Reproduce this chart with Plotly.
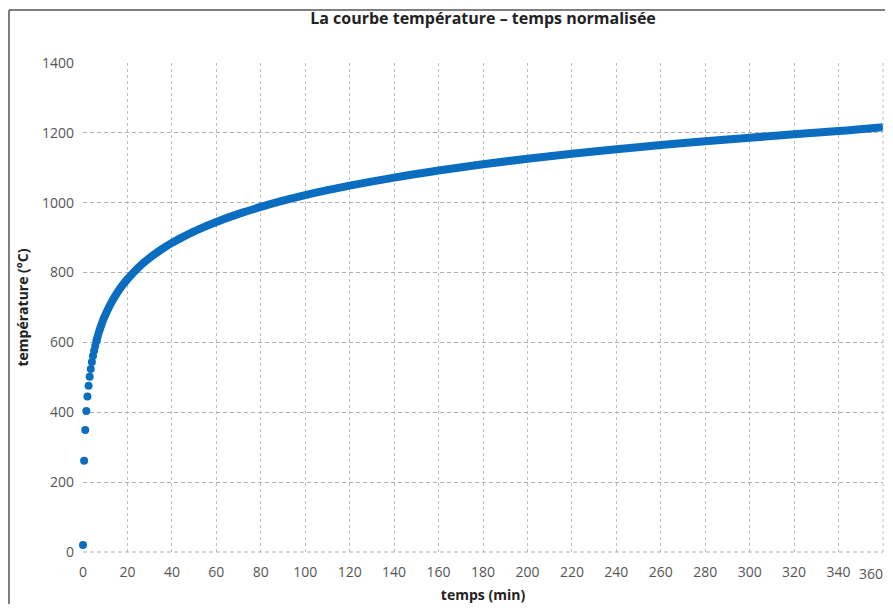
import plotly.graph_objects as go

# early readings, one dot every half minute
t_early = [0, 0.5, 1, 1.5, 2, 2.5, 3, 3.5, 4, 4.5, 5, 5.5, 6]
temp_early = [20, 261, 349, 404, 445, 476, 502, 524, 544, 561, 576, 590, 603]

# continuous part of the curve
t_curve = [6, 7, 8, 9, 10, 12, 14, 16, 18, 20, 25, 30, 35, 40, 45, 50, 55, 60,
           70, 80, 90, 100, 110, 120, 140, 160, 180, 200, 220, 240, 260, 280,
           300, 320, 340, 360]
temp_curve = [603, 626, 645, 663, 678, 705, 728, 748, 766, 781, 815, 842, 865,
              885, 902, 918, 932, 945, 968, 988, 1006, 1022, 1036, 1049, 1072,
              1092, 1110, 1126, 1140, 1153, 1165, 1176, 1186, 1196, 1205, 1216]

x_ticks = list(range(0, 361, 20))
y_ticks = list(range(0, 1401, 200))

blue = "#0b6dbf"
W, H = 877, 596

fig = go.Figure()
fig.add_trace(go.Scatter(x=t_curve, y=temp_curve, mode="lines",
                         line=dict(color=blue, width=8, shape="spline"),
                         cliponaxis=False, hoverinfo="skip"))
fig.add_trace(go.Scatter(x=t_early, y=temp_early, mode="markers",
                         marker=dict(color=blue, size=8),
                         cliponaxis=False))

fig.update_layout(
    width=W, height=H,
    margin=dict(l=75, r=2, t=55, b=52),
    paper_bgcolor="white", plot_bgcolor="white",
    showlegend=False,
    font=dict(family="Open Sans, Noto Sans, sans-serif", color="#444"),
    title=dict(text="<b>La courbe température – temps normalisée</b>",
               x=0.5, xanchor="center", xref="paper",
               y=1 - 10 / H, yanchor="middle",
               font=dict(size=16, color="#222")),
    xaxis=dict(range=[0, 360], tickvals=x_ticks, ticks="",
               ticklabelstandoff=10,
               showgrid=True, gridcolor="#bdbdbd", griddash="dot", gridwidth=1,
               zeroline=False, showline=False,
               tickfont=dict(size=14, color="#555"),
               title=dict(text="<b>temps (min)</b>", standoff=12,
                          font=dict(size=14, color="#222"))),
    yaxis=dict(range=[0, 1400], tickvals=y_ticks, ticks="",
               ticklabelstandoff=8,
               showgrid=True, gridcolor="#b0b0b0", griddash="4px,3px", gridwidth=1,
               zeroline=False, showline=False,
               tickfont=dict(size=14, color="#555"),
               title=dict(text="<b>température (°C)</b>", standoff=10,
                          font=dict(size=14, color="#222"))),
)

# last x tick label, kept inside the page
fig.add_annotation(text=str(x_ticks[-1]), xref="paper", yref="paper",
                   x=1 + 2 / 800, xanchor="right", y=0, yanchor="top",
                   yshift=-10, showarrow=False,
                   font=dict(size=14, color="#555"))

fig.add_shape(type="line", xref="paper", yref="paper", x0=0, x1=1, y0=0, y1=0,
              line=dict(color="#b0b0b0", width=1, dash="4px,3px"))
fig.add_shape(type="line", xref="paper", yref="paper", x0=1, x1=1, y0=0, y1=1,
              line=dict(color="#bdbdbd", width=1, dash="dot"))
# outer frame of the picture (top and left edges)
fig.add_shape(type="line", xref="paper", yref="paper",
              x0=-74 / 800, x1=1.2, y0=1 + 53 / 489, y1=1 + 53 / 489,
              line=dict(color="#555", width=1.5))
fig.add_shape(type="line", xref="paper", yref="paper",
              x0=-74 / 800, x1=-74 / 800, y0=-0.2, y1=1 + 53 / 489,
              line=dict(color="#555", width=1.5))

fig.write_html("out.html")
